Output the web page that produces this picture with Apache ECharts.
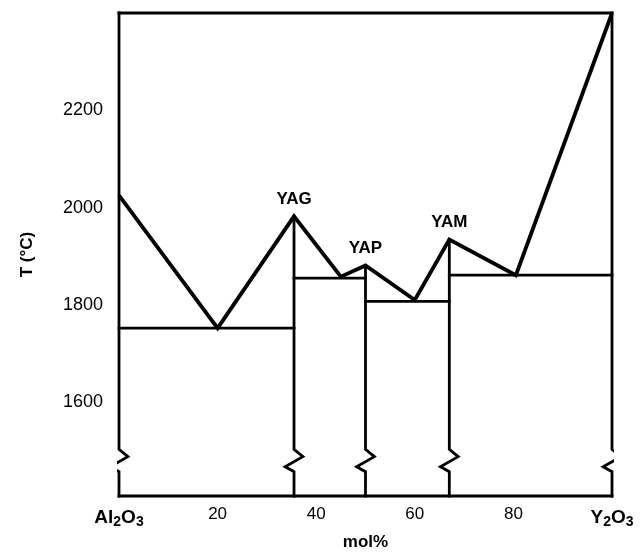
<!DOCTYPE html>
<html>
<head>
<meta charset="utf-8">
<script src="https://cdn.jsdelivr.net/npm/echarts@6/dist/echarts.min.js"></script>
<style>
  html, body { margin: 0; padding: 0; background: #fff; }
  #chart { width: 644px; height: 556px; }
</style>
</head>
<body>
<div id="chart"></div>
<script>
// ---- data ----
// liquidus curve: composition (mol% Y2O3) and temperature (°C)
const liquidusX = [0, 20, 35.5, 45, 50, 60, 67, 80.5, 100];
const liquidusT = [2025, 1752, 1982, 1858, 1881, 1810, 1934, 1861, 2400];
// eutectic (solidus) horizontals
const eutecticFrom = [0, 35.5, 50, 67];
const eutecticTo = [35.5, 50, 67, 100];
const eutecticT = [1752, 1855, 1807, 1861];
// congruently melting compounds
const compoundNames = ['YAG', 'YAP', 'YAM'];
const compoundX = [35.5, 50, 67];
const compoundTm = [1982, 1881, 1934];
// axis tick labels
const xTicks = [0, 20, 40, 60, 80, 100];
const yTicks = [1600, 1800, 2000, 2200];

// ---- axis range and decoration shape ----
const yMin = 1407, yMax = 2400, xMin = 0, xMax = 100;
// axis-break zigzag: [dx in mol%, T]
const breakShape = [[0, 1503], [1.8, 1488], [-1.8, 1467], [0, 1457]];

const FONT = "'Liberation Sans', Arial, Helvetica, sans-serif";

function verticalWithBreak(x, topT) {
  const pts = [[x, topT]];
  breakShape.forEach(p => pts.push([x + p[0], p[1]]));
  pts.push([x, yMin]);
  return pts;
}

const series = [];
const thin = { color: '#000', width: 2.8, cap: 'square', join: 'miter' };

// frame: top, bottom, left & right edges with breaks
series.push({ type: 'line', data: [[xMin, yMax], [xMax, yMax]], lineStyle: thin });
series.push({ type: 'line', data: [[xMin, yMin], [xMax, yMin]], lineStyle: thin });
series.push({ type: 'line', data: verticalWithBreak(xMin, yMax), lineStyle: thin });
series.push({ type: 'line', data: verticalWithBreak(xMax, yMax), lineStyle: thin });

// compound verticals
compoundX.forEach((x, i) => {
  series.push({ type: 'line', data: verticalWithBreak(x, compoundTm[i]), lineStyle: thin });
});

// eutectic horizontals
eutecticT.forEach((t, i) => {
  series.push({ type: 'line', data: [[eutecticFrom[i], t], [eutecticTo[i], t]], lineStyle: thin });
});

// liquidus
series.push({
  type: 'line',
  data: liquidusX.map((x, i) => [x, liquidusT[i]]),
  lineStyle: { color: '#000', width: 3.8, join: 'miter', cap: 'butt' }
});

// compound labels
series.push({
  type: 'scatter',
  symbolSize: 0,
  itemStyle: { color: '#000', opacity: 1 },
  data: compoundX.map((x, i) => ({ value: [x, compoundTm[i]], name: compoundNames[i] })),
  label: {
    show: true, position: 'top', distance: 9,
    formatter: p => p.name,
    color: '#000', fontFamily: FONT, fontWeight: 'bold', fontSize: 17
  },
  z: 5
});

series.forEach(s => {
  if (s.type === 'line') { s.symbol = 'none'; s.silent = true; s.clip = false; }
  s.animation = false;
});

const chart = echarts.init(document.getElementById('chart'), null, { renderer: 'canvas' });
chart.setOption({
  backgroundColor: '#fff',
  animation: false,
  grid: { left: 119, right: 32, top: 13, bottom: 54 },
  xAxis: {
    type: 'value', min: xMin, max: xMax, interval: 20,
    axisLine: { show: false }, axisTick: { show: false }, splitLine: { show: false },
    name: 'mol%', nameLocation: 'middle', nameGap: 38,
    nameTextStyle: { color: '#000', fontFamily: FONT, fontWeight: 'bold', fontSize: 17 },
    axisLabel: {
      color: '#000', fontFamily: FONT, fontSize: 17, margin: 10,
      customValues: xTicks,
      formatter: v => v === 0 ? '{b|Al}{s|2}{b|O}{s|3}' : (v === 100 ? '{b|Y}{s|2}{b|O}{s|3}' : String(v)),
      rich: {
        b: { fontFamily: FONT, fontWeight: 'bold', fontSize: 19, color: '#000' },
        s: { fontFamily: FONT, fontWeight: 'bold', fontSize: 14, color: '#000', padding: [9, 0, 0, 0] }
      }
    }
  },
  yAxis: {
    type: 'value', min: yMin, max: yMax,
    axisLine: { show: false }, axisTick: { show: false }, splitLine: { show: false },
    name: 'T (°C)', nameLocation: 'middle', nameGap: 83, nameRotate: 90,
    nameTextStyle: { color: '#000', fontFamily: FONT, fontWeight: 'bold', fontSize: 17 },
    axisLabel: {
      color: '#000', fontFamily: FONT, fontSize: 18, margin: 16,
      customValues: yTicks,
      formatter: v => String(v)
    }
  },
  series: series
});
</script>
</body>
</html>
